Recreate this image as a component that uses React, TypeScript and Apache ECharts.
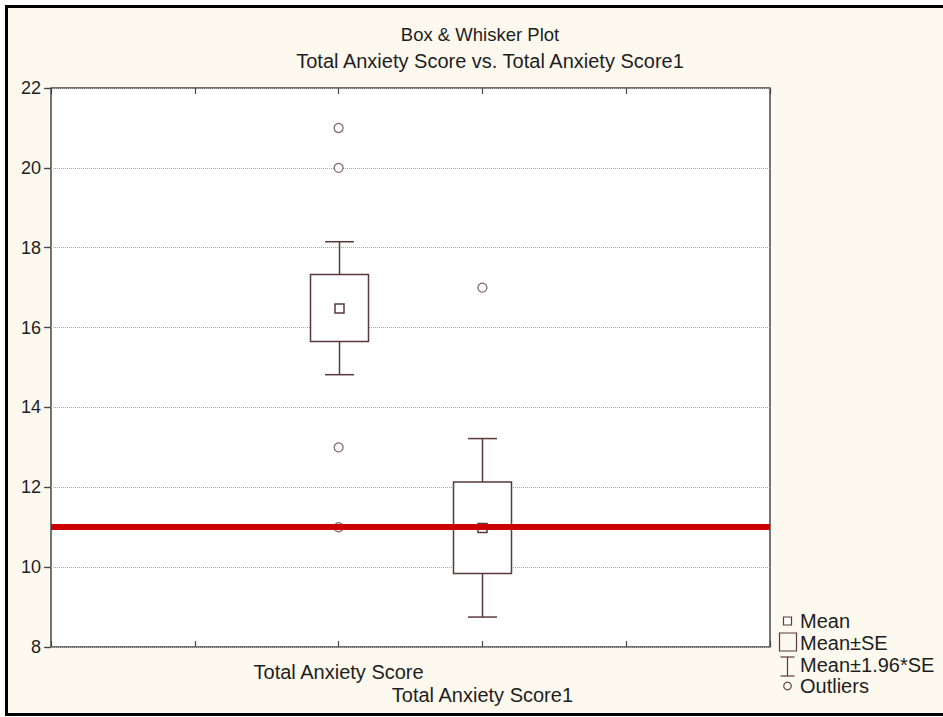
import React, { useEffect, useRef } from 'react';
import * as echarts from 'echarts';

// Summary statistics per variable (Mean, Mean±SE, Mean±1.96*SE)
const chartTitle = 'Box & Whisker Plot';
const chartSubtitle = 'Total Anxiety Score vs. Total Anxiety Score1';
const variables = ['Total Anxiety Score', 'Total Anxiety Score1'];
const means = [16.48, 10.98];
const seLower = [15.65, 9.84];
const seUpper = [17.33, 12.13];
const ciLower = [14.82, 8.75];
const ciUpper = [18.15, 13.22];

// Outliers: index of the variable and the observed value
const outlierVariable = [0, 0, 0, 0, 1];
const outlierValues = [21, 20, 13, 11, 17];

// Horizontal reference level
const referenceValue = 11;

const yTicks = [8, 10, 12, 14, 16, 18, 20, 22];
const legendLabels = ['Mean', 'Mean±SE', 'Mean±1.96*SE', 'Outliers'];

// Layout: variables sit in slots 2 and 3 of a 0..5 horizontal scale
const SLOT_OFFSET = 2;
const SLOT_MAX = 5;
const FONT = "'Liberation Sans', Arial, sans-serif";
const FONT_SIZE = 20;
const TITLE_FONT_SIZE = 18.5;
const TICK_FONT_SIZE = 18;
const TEXT_COLOR = '#1e1e1e';
const BOX_COLOR = '#5a3a3a';
const FRAME_COLOR = '#474747';
const BOX_HALF = 29;
const CAP_HALF = 14.5;
const MEAN_HALF = 4.5;

export default function App() {
  const ref = useRef<HTMLDivElement>(null);

  useEffect(() => {
    if (!ref.current) return;
    const chart = echarts.init(ref.current, undefined, { renderer: 'svg' });

    const boxData = variables.map((_, i) => [
      i + SLOT_OFFSET,
      means[i],
      seLower[i],
      seUpper[i],
      ciLower[i],
      ciUpper[i],
    ]);
    const outlierData = outlierValues.map((v, k) => [outlierVariable[k] + SLOT_OFFSET, v]);

    const lineStyle = { stroke: BOX_COLOR, lineWidth: 1.5, fill: 'none' };

    const renderBox = (params: any, api: any) => {
      const x = api.value(0);
      const pMean = api.coord([x, api.value(1)]);
      const pSeLo = api.coord([x, api.value(2)]);
      const pSeHi = api.coord([x, api.value(3)]);
      const pCiLo = api.coord([x, api.value(4)]);
      const pCiHi = api.coord([x, api.value(5)]);
      const cx = Math.round(pMean[0]) + 0.5;
      return {
        type: 'group',
        children: [
          { type: 'line', shape: { x1: cx, y1: pCiHi[1], x2: cx, y2: pSeHi[1] }, style: lineStyle },
          { type: 'line', shape: { x1: cx, y1: pSeLo[1], x2: cx, y2: pCiLo[1] }, style: lineStyle },
          { type: 'line', shape: { x1: cx - CAP_HALF, y1: pCiHi[1], x2: cx + CAP_HALF, y2: pCiHi[1] }, style: lineStyle },
          { type: 'line', shape: { x1: cx - CAP_HALF, y1: pCiLo[1], x2: cx + CAP_HALF, y2: pCiLo[1] }, style: lineStyle },
          {
            type: 'rect',
            shape: { x: cx - BOX_HALF, y: pSeHi[1], width: BOX_HALF * 2, height: pSeLo[1] - pSeHi[1] },
            style: { stroke: BOX_COLOR, lineWidth: 1.5, fill: '#ffffff' },
          },
          {
            type: 'rect',
            shape: { x: cx - MEAN_HALF, y: pMean[1] - MEAN_HALF, width: MEAN_HALF * 2, height: MEAN_HALF * 2 },
            style: { stroke: BOX_COLOR, lineWidth: 1.5, fill: '#ffffff' },
          },
        ],
      };
    };

    const textStyle = { fontFamily: FONT, fontSize: FONT_SIZE, fill: TEXT_COLOR };
    const legendX = 800;
    const legendRows = [621, 643, 665, 686];
    const legendIconX = 787.5;

    chart.setOption({
      animation: false,
      backgroundColor: 'transparent',
      textStyle: { fontFamily: FONT },
      grid: {
        left: 51,
        right: 173,
        top: 88,
        bottom: 70,
        show: true,
        backgroundColor: '#ffffff',
        borderColor: FRAME_COLOR,
        borderWidth: 1.5,
      },
      xAxis: [
        {
          type: 'value',
          min: 0,
          max: SLOT_MAX,
          interval: 1,
          position: 'bottom',
          axisLine: { show: false },
          axisTick: { show: true, inside: true, length: 6, lineStyle: { color: FRAME_COLOR, width: 1.2 } },
          splitLine: { show: false },
          axisLabel: {
            show: true,
            margin: 13,
            color: TEXT_COLOR,
            fontSize: FONT_SIZE,
            fontFamily: FONT,
            lineHeight: 23,
            showMinLabel: true,
            showMaxLabel: true,
            formatter: (v: number) => {
              const i = Math.round(v) - SLOT_OFFSET;
              if (i === 0) return variables[0];
              if (i === 1) return '\n' + variables[1];
              return '';
            },
          },
        },
        {
          type: 'value',
          min: 0,
          max: SLOT_MAX,
          interval: 1,
          position: 'top',
          axisLine: { show: false },
          axisTick: { show: true, inside: true, length: 6, lineStyle: { color: FRAME_COLOR, width: 1.2 } },
          splitLine: { show: false },
          axisLabel: { show: false },
        },
      ],
      yAxis: [
        {
          type: 'value',
          min: yTicks[0],
          max: yTicks[yTicks.length - 1],
          interval: yTicks[1] - yTicks[0],
          position: 'left',
          axisLine: { show: false },
          axisTick: { show: true, inside: false, length: 7, lineStyle: { color: FRAME_COLOR, width: 1.2 } },
          splitLine: { show: true, lineStyle: { color: '#a8a8a8', type: [1, 1], width: 1 } },
          axisLabel: { margin: 10, color: TEXT_COLOR, fontSize: TICK_FONT_SIZE, fontFamily: FONT },
        },
        {
          type: 'value',
          min: yTicks[0],
          max: yTicks[yTicks.length - 1],
          interval: yTicks[1] - yTicks[0],
          position: 'right',
          axisLine: { show: false },
          axisTick: { show: true, inside: true, length: 6, lineStyle: { color: FRAME_COLOR, width: 1.2 } },
          splitLine: { show: false },
          axisLabel: { show: false },
        },
      ],
      series: [
        {
          type: 'custom',
          name: 'Mean±SE',
          renderItem: renderBox,
          data: boxData,
          z: 2,
          silent: true,
        },
        {
          type: 'scatter',
          name: 'Outliers',
          data: outlierData,
          symbol: 'circle',
          symbolSize: 9,
          itemStyle: { color: '#ffffff', borderColor: '#6a4545', borderWidth: 1.3 },
          z: 3,
          silent: true,
        },
        {
          type: 'line',
          name: 'Reference',
          data: [],
          z: 5,
          silent: true,
          markLine: {
            silent: true,
            symbol: ['none', 'none'],
            label: { show: false },
            lineStyle: { color: '#cc0000', width: 6, type: 'solid' },
            data: [{ yAxis: referenceValue }],
          },
        },
      ],
      graphic: [
        {
          type: 'text',
          x: 480,
          y: 34,
          style: {
            ...textStyle,
            fontSize: TITLE_FONT_SIZE,
            text: chartTitle,
            textAlign: 'center',
            textVerticalAlign: 'middle',
          },
        },
        {
          type: 'text',
          x: 490,
          y: 61,
          style: { ...textStyle, text: chartSubtitle, textAlign: 'center', textVerticalAlign: 'middle' },
        },
        // Legend: Mean marker
        {
          type: 'rect',
          shape: { x: legendIconX - 4, y: legendRows[0] - 4, width: 8, height: 8 },
          style: { stroke: BOX_COLOR, lineWidth: 1.2, fill: '#ffffff' },
        },
        // Legend: Mean±SE box
        {
          type: 'rect',
          shape: { x: 779.5, y: legendRows[1] - 10, width: 17, height: 18 },
          style: { stroke: BOX_COLOR, lineWidth: 1.2, fill: 'none' },
        },
        // Legend: Mean±1.96*SE whisker
        {
          type: 'line',
          shape: { x1: legendIconX, y1: legendRows[2] - 8, x2: legendIconX, y2: legendRows[2] + 11 },
          style: { stroke: BOX_COLOR, lineWidth: 1.2 },
        },
        {
          type: 'line',
          shape: { x1: legendIconX - 7, y1: legendRows[2] - 8, x2: legendIconX + 7, y2: legendRows[2] - 8 },
          style: { stroke: BOX_COLOR, lineWidth: 1.2 },
        },
        {
          type: 'line',
          shape: { x1: legendIconX - 7, y1: legendRows[2] + 11, x2: legendIconX + 7, y2: legendRows[2] + 11 },
          style: { stroke: BOX_COLOR, lineWidth: 1.2 },
        },
        // Legend: outlier marker
        {
          type: 'circle',
          shape: { cx: legendIconX, cy: legendRows[3], r: 3.8 },
          style: { stroke: '#6a4545', lineWidth: 1.2, fill: '#ffffff' },
        },
        ...legendLabels.map((label, i) => ({
          type: 'text',
          x: legendX,
          y: legendRows[i],
          style: { ...textStyle, text: label, textAlign: 'left', textVerticalAlign: 'middle' },
        })),
      ],
    });

    return () => chart.dispose();
  }, []);

  return (
    <div
      style={{
        position: 'fixed',
        left: 0,
        top: 0,
        width: 943,
        height: 717,
        background: '#ffffff',
        overflow: 'hidden',
      }}
    >
      <div
        style={{
          position: 'absolute',
          left: 5,
          top: 5,
          width: 960,
          height: 711,
          boxSizing: 'border-box',
          border: '3px solid #000000',
          background: '#fdf9ee',
        }}
      />
      <div ref={ref} style={{ position: 'absolute', left: 0, top: 0, width: 943, height: 717 }} />
    </div>
  );
}
